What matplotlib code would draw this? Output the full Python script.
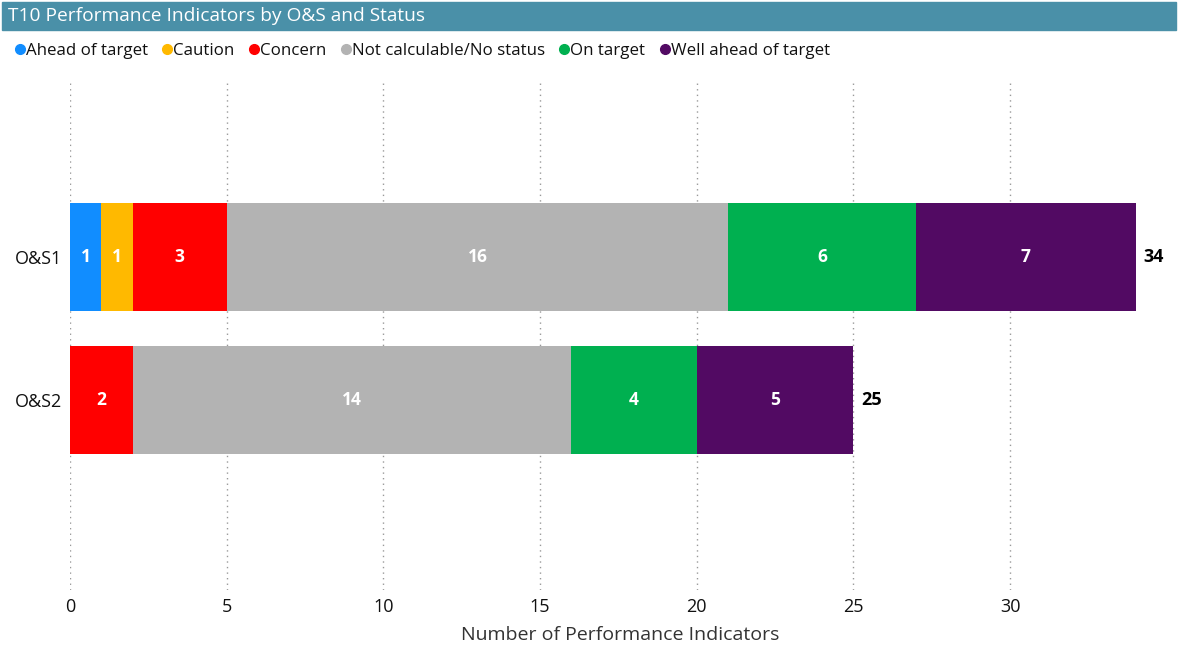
import matplotlib.pyplot as plt
from matplotlib.lines import Line2D
from matplotlib.patches import Rectangle

plt.rcParams['font.family'] = ['Open Sans', 'DejaVu Sans']

# ----- DATA -----
groups = ["O&S1", "O&S2"]
statuses = ["Ahead of target", "Caution", "Concern", "Not calculable/No status",
            "On target", "Well ahead of target"]
colors = ["#118DFF", "#FFB900", "#FF0000", "#B3B3B3", "#00B050", "#520A63"]
counts = {
    "Ahead of target": [1, 0],
    "Caution": [1, 0],
    "Concern": [3, 2],
    "Not calculable/No status": [16, 14],
    "On target": [6, 4],
    "Well ahead of target": [7, 5],
}
xticks = [0, 5, 10, 15, 20, 25, 30]

W, H = 1178, 648
fig = plt.figure(figsize=(W / 100, H / 100), dpi=100)

# ----- TITLE BAR -----
fig.patches.append(Rectangle((2 / W, 1 - 30 / H), 1174 / W, 28 / H,
                             transform=fig.transFigure, color="#4A90A8", zorder=0))
fig.text(8 / W, 1 - 16 / H, "T10 Performance Indicators by O&S and Status",
         color="white", fontsize=13.8, va="center", ha="left")

# ----- BARS -----
ax = fig.add_axes([70 / W, 58 / H, 1100 / W, 510 / H])
ypos = list(range(len(groups)))
left = [0] * len(groups)
for status, col in zip(statuses, colors):
    vals = counts[status]
    ax.barh(ypos, vals, left=left, height=0.755, color=col, zorder=2)
    for i, v in enumerate(vals):
        if v > 0:
            ax.text(left[i] + v / 2, ypos[i], str(v), color="white", fontsize=12.5,
                    fontweight="bold", ha="center", va="center", zorder=3)
    left = [l + v for l, v in zip(left, vals)]

for i, tot in enumerate(left):
    ax.text(tot + 0.25, ypos[i], str(tot), color="black", fontsize=13,
            fontweight="bold", ha="left", va="center")

ax.set_xlim(0, 35.1)
ax.set_ylim(2.33, -1.24)
ax.set_xticks(xticks)
ax.set_yticks(ypos)
ax.set_yticklabels(groups)
ax.tick_params(length=0, labelsize=13, colors="#111111")
ax.tick_params(axis="x", pad=6)
ax.tick_params(axis="y", pad=6)
ax.grid(axis="x", linestyle=(0, (1, 3)), color="#999999", linewidth=1, zorder=1)
for s in ax.spines.values():
    s.set_visible(False)
ax.set_xlabel("Number of Performance Indicators", fontsize=14, color="#333333",
              labelpad=7)

# ----- LEGEND -----
handles = [Line2D([], [], marker="o", linestyle="", color=c, markersize=7)
           for c in colors]
fig.legend(handles, statuses, loc="center left", bbox_to_anchor=(3 / W, 1 - 51 / H),
           ncol=6, frameon=False, fontsize=12.2, handletextpad=-0.25,
           columnspacing=0.55, handlelength=1.2, borderaxespad=0, labelcolor="#111111")

fig.savefig("out.png", dpi=100)
